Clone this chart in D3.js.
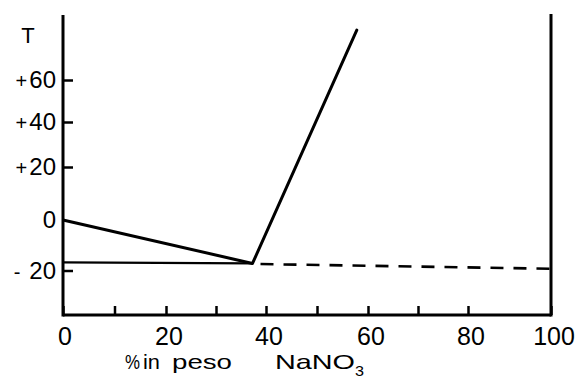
<!DOCTYPE html>
<html>
<head>
<meta charset="utf-8">
<script src="https://cdn.jsdelivr.net/npm/d3@7"></script>
<style>
  html, body { margin: 0; padding: 0; background: #fff; }
  svg { display: block; }
  text { font-family: "Liberation Sans", Arial, sans-serif; fill: #000; }
</style>
</head>
<body>
<svg id="chart" width="576" height="378"></svg>
<script>
// ---- data ----
const xTickValues = [0, 10, 20, 30, 40, 50, 60, 70, 80, 100];
const xTickLabels = [0, 20, 40, 60, 80, 100];
const yTickValues = [-20, 20, 40, 60];
const yTickLabels = [
  { v: 60, sign: "+", num: "60" },
  { v: 40, sign: "+", num: "40" },
  { v: 20, sign: "+", num: "20" },
  { v: 0, sign: "", num: "0" },
  { v: -20, sign: "-", num: "20" }
];
const titleWords = ["%", "in", "peso", "NaNO"];
// ice liquidus: (wt% NaNO3, T)
const iceCurve = [[0, 0], [37.3, -17.2]];
// NaNO3 solubility curve
const saltCurve = [[37.3, -17.2], [57.8, 83.8]];
// eutectic horizontal (solid part)
const eutecticSolid = [[0, -16.8], [37.3, -17.2]];
// eutectic horizontal (dashed part)
const eutecticDashed = [[37.3, -17.4], [100, -19.3]];

// ---- scales (hand-drawn axis, piecewise linear) ----
const x = d3.scaleLinear()
  .domain([0, 20, 40, 60, 80, 100])
  .range([63, 166, 266, 368, 468, 551]);
const y = d3.scaleLinear()
  .domain([-38, -20, 0, 20, 40, 60, 91])
  .range([315, 270.5, 220, 167, 122, 80, 15]);

const svg = d3.select("#chart");
const line = d3.line().x(d => x(d[0])).y(d => y(d[1]));

// frame axes
const yTop = 15;
const yBot = y(-38);
svg.append("line").attr("x1", x(0)).attr("x2", x(0)).attr("y1", yTop).attr("y2", yBot + 1.5)
  .attr("stroke", "#000").attr("stroke-width", 3);
svg.append("line").attr("x1", x(100)).attr("x2", x(100)).attr("y1", yTop - 1).attr("y2", yBot + 1.5)
  .attr("stroke", "#000").attr("stroke-width", 3);

// bottom axis
const xAxis = d3.axisBottom(x).tickValues(xTickValues).tickSize(-9).tickFormat("");
const gx = svg.append("g").attr("transform", `translate(0,${yBot})`).call(xAxis);
gx.select(".domain").attr("stroke", "#000").attr("stroke-width", 3)
  .attr("d", `M${x(0)},0H${x(100)}`);
gx.selectAll(".tick line").attr("stroke", "#000").attr("stroke-width", 2.5);

svg.append("g").selectAll("text").data(xTickLabels).join("text")
  .attr("x", d => x(d) + (d === 0 ? 2 : 3))
  .attr("y", 345)
  .attr("text-anchor", "middle")
  .attr("font-size", 25)
  .text(d => d);

// left axis ticks
const yAxis = d3.axisRight(y).tickValues(yTickValues).tickSize(10).tickFormat("");
const gy = svg.append("g").attr("transform", `translate(${x(0)},0)`).call(yAxis);
gy.select(".domain").remove();
gy.selectAll(".tick line").attr("stroke", "#000").attr("stroke-width", 2.5);

// y labels
const yl = svg.append("g").selectAll("text").data(yTickLabels).join("text")
  .attr("x", 56)
  .attr("y", d => y(d.v) + 8)
  .attr("text-anchor", "end")
  .attr("font-size", 24);
yl.append("tspan").attr("font-size", 20).text(d => d.sign);
yl.append("tspan").attr("dx", d => d.sign === "-" ? 9 : d.sign === "+" ? 2 : 0).text(d => d.num);

// T label
svg.append("text").attr("x", 28).attr("y", 43).attr("text-anchor", "middle")
  .attr("font-size", 22).text("T");

// x title (wide lettering as in the original)
const titleX = [125, 143, 172, 275];
const titleW = [15, 17, 60, 80];
svg.append("g").selectAll("text").data(titleWords).join("text")
  .attr("x", (d, i) => titleX[i])
  .attr("y", 369)
  .attr("font-size", 21)
  .attr("textLength", (d, i) => titleW[i])
  .attr("lengthAdjust", "spacingAndGlyphs")
  .text(d => d);
svg.append("text").attr("x", 355).attr("y", 376).attr("font-size", 15)
  .attr("textLength", 9).attr("lengthAdjust", "spacingAndGlyphs").text("3");

// curves
svg.append("path").datum(eutecticSolid).attr("d", line)
  .attr("fill", "none").attr("stroke", "#000").attr("stroke-width", 2.2);
svg.append("path").datum(eutecticDashed).attr("d", line)
  .attr("fill", "none").attr("stroke", "#000").attr("stroke-width", 2.6)
  .attr("stroke-dasharray", "13,10").attr("stroke-dashoffset", -8);
svg.append("path").datum(iceCurve).attr("d", line)
  .attr("fill", "none").attr("stroke", "#000").attr("stroke-width", 3);
svg.append("path").datum(saltCurve).attr("d", line)
  .attr("fill", "none").attr("stroke", "#000").attr("stroke-width", 3)
  .attr("stroke-linecap", "round");
</script>
</body>
</html>
